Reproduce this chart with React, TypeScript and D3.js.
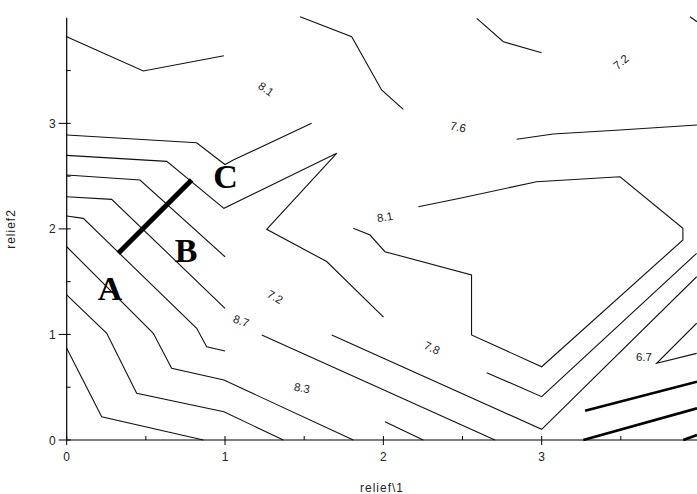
import React from 'react';
import * as d3 from 'd3';

type Pt = [number, number];

// contour polylines in data units (relief\1, relief\2)
const contourLines: Pt[][] = [
  [[0, 3.821], [0.484, 3.496], [0.993, 3.641]],
  [[1.474, 4.01], [1.8, 3.821], [1.989, 3.316], [2.126, 3.133]],
  [[2.59, 3.995], [2.758, 3.773], [3.0, 3.669]],
  [[3.937, 4.01], [3.981, 3.963]],
  [[2.842, 2.849], [3.073, 2.899], [3.494, 2.937], [3.981, 2.984]],
  [[0, 2.889], [0.821, 2.816], [0.968, 2.646], [1.0, 2.61], [1.052, 2.653], [1.547, 3.0]],
  [[0, 2.697], [0.632, 2.64], [0.993, 2.195], [1.705, 2.716], [1.263, 1.996], [1.642, 1.691], [2.001, 1.165]],
  [[0, 2.51], [0.463, 2.463], [1.0, 1.736]],
  [[0, 2.305], [0.284, 2.28], [1.0, 1.248]],
  [[0, 2.122], [0.105, 2.1], [0.821, 1.058], [0.884, 0.884], [1.0, 0.843]],
  [[0, 1.831], [0.547, 1.011], [0.663, 0.679], [0.993, 0.568], [1.81, 0]],
  [[0, 1.374], [0.253, 1.011], [0.442, 0.442], [0.993, 0.268], [1.368, 0]],
  [[0, 0.869], [0.221, 0.221], [0.863, 0]],
  [[1.232, 0.995], [2.705, 0]],
  [[1.674, 0.995], [3.0, 0.101], [3.979, 1.547]],
  [[2.653, 0.638], [3.0, 0.41], [3.979, 1.769]],
  [[2.221, 2.21], [2.484, 2.29], [2.968, 2.447], [3.495, 2.494], [3.892, 2.006], [3.892, 1.895],
   [3.0, 0.694], [2.557, 0.995], [2.557, 1.563], [2.01, 1.784], [1.916, 1.942], [1.81, 2.006]],
  [[2.01, 0.173], [2.252, 0]],
  [[3.979, 1.106], [3.726, 0.727], [3.979, 0.821]],
];

// heavier segments at the lower right
const boldLines: Pt[][] = [
  [[3.274, 0.278], [3.981, 0.552]],
  [[3.263, 0], [3.981, 0.3]],
  [[3.894, 0], [3.981, 0.047]],
];

const levelLabels = ['8.1', '7.6', '7.2', '8.1', '7.2', '8.7', '7.8', '8.3', '6.7'];
const labelX = [1.259, 2.472, 3.501, 2.01, 1.316, 1.101, 2.307, 1.486, 3.646];
const labelY = [3.325, 2.965, 3.581, 2.113, 1.355, 1.127, 0.872, 0.493, 0.786];
const labelAngle = [35, 12, -40, -10, 30, 20, 25, 10, 0];

// A-B-C transect
const transect: Pt[] = [[0.326, 1.769], [0.789, 2.463]];
const pointNames = ['A', 'B', 'C'];
const pointX = [0.274, 0.754, 1.003];
const pointY = [1.326, 1.686, 2.387];

const majorTicks = [0, 1, 2, 3];
const minorTicks = [0.5, 1.5, 2.5, 3.5];

const W = 697;
const H = 494;

const App: React.FC = () => {
  const x = d3.scaleLinear().domain([0, 4]).range([66.7, 700]);
  const y = d3.scaleLinear().domain([0, 4]).range([440, 17.8]);
  const line = d3.line<Pt>().x(d => x(d[0])).y(d => y(d[1]));
  const font = '"Liberation Sans", Arial, sans-serif';

  return (
    <svg width={W} height={H} style={{ position: 'absolute', left: 0, top: 0, background: '#fff' }}>
      <rect width={W} height={H} fill="#fff" />

      {contourLines.map((pts, i) => (
        <path key={'c' + i} d={line(pts) || ''} fill="none" stroke="#111" strokeWidth={1.1} />
      ))}
      {boldLines.map((pts, i) => (
        <path key={'b' + i} d={line(pts) || ''} fill="none" stroke="#000" strokeWidth={2.6} />
      ))}

      {levelLabels.map((t, i) => (
        <text key={'l' + i} x={x(labelX[i])} y={y(labelY[i])} fontFamily={font} fontSize={11.5}
          fill="#222" textAnchor="middle" dominantBaseline="central"
          transform={`rotate(${labelAngle[i]},${x(labelX[i])},${y(labelY[i])})`}>{t}</text>
      ))}

      {/* axes */}
      <line x1={x(0)} x2={x(0)} y1={y(0)} y2={y(4)} stroke="#000" strokeWidth={1.2} />
      <line x1={x(0)} x2={W} y1={y(0)} y2={y(0)} stroke="#000" strokeWidth={1.2} />
      {majorTicks.map(v => (
        <g key={'xt' + v}>
          <line x1={x(v)} x2={x(v)} y1={y(0) - 4} y2={y(0) + 5} stroke="#000" />
          <text x={x(v)} y={y(0) + 21} fontFamily={font} fontSize={12} textAnchor="middle" fill="#222">{v}</text>
        </g>
      ))}
      {minorTicks.map(v => (
        <line key={'xm' + v} x1={x(v)} x2={x(v)} y1={y(0) - 4} y2={y(0)} stroke="#000" />
      ))}
      {majorTicks.map(v => (
        <g key={'yt' + v}>
          <line x1={x(0) - 8} x2={x(0) + 4} y1={y(v)} y2={y(v)} stroke="#000" />
          <text x={x(0) - 11} y={y(v) + 4.5} fontFamily={font} fontSize={12} textAnchor="end" fill="#222">{v}</text>
        </g>
      ))}
      {minorTicks.map(v => (
        <line key={'ym' + v} x1={x(0)} x2={x(0) + 4} y1={y(v)} y2={y(v)} stroke="#000" />
      ))}

      <text x={382} y={492} fontFamily={font} fontSize={12} letterSpacing={1} textAnchor="middle" fill="#222">relief\1</text>
      <text transform="translate(15,229) rotate(-90)" fontFamily={font} fontSize={12} letterSpacing={1}
        textAnchor="middle" fill="#222">relief2</text>

      {/* transect */}
      <path d={line(transect) || ''} stroke="#000" strokeWidth={5} fill="none" />
      {pointNames.map((t, i) => (
        <text key={'p' + i} x={x(pointX[i])} y={y(pointY[i])} fontFamily='"Liberation Serif", "Times New Roman", serif'
          fontWeight="bold" fontSize={34} textAnchor="middle" fill="#000">{t}</text>
      ))}
    </svg>
  );
};

export default App;
